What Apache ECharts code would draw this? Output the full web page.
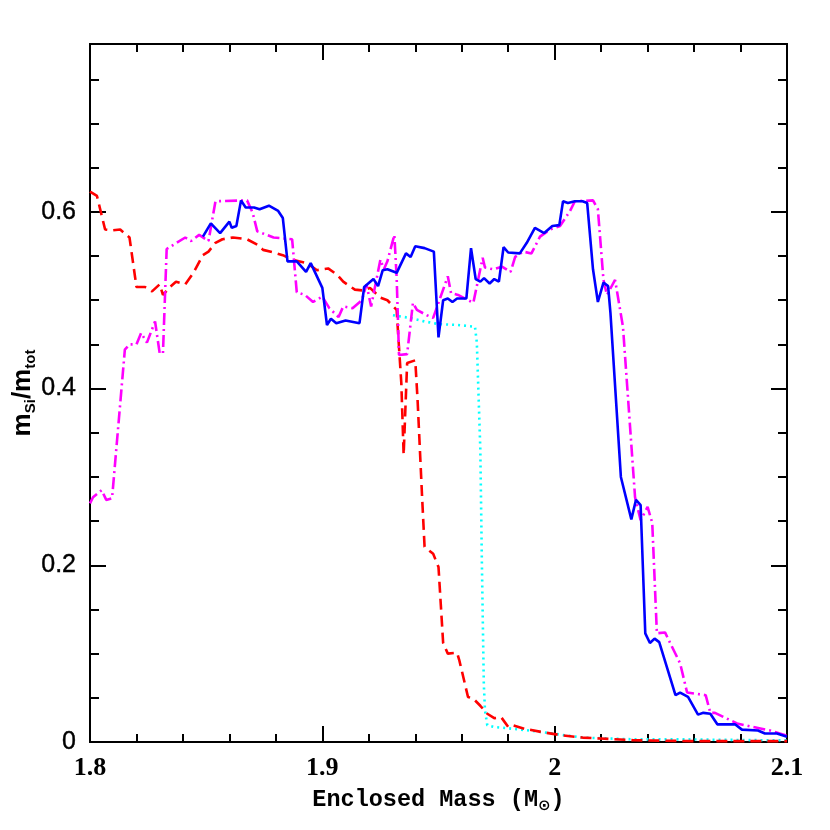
<!DOCTYPE html>
<html>
<head>
<meta charset="utf-8">
<script src="https://cdn.jsdelivr.net/npm/echarts@6/dist/echarts.min.js"></script>
<style>
  html, body { margin: 0; padding: 0; background: #fff; }
  #chart { width: 830px; height: 830px; }
</style>
</head>
<body>
<div id="chart"></div>
<script>
// enclosed mass (x) and Si mass fraction (y) for each model
var blueX = [1.8486, 1.852, 1.856, 1.860, 1.861, 1.863, 1.865, 1.867, 1.8706, 1.873, 1.877, 1.881, 1.883, 1.885, 1.889, 1.893, 1.895, 1.900, 1.902, 1.9037, 1.906, 1.910, 1.916, 1.918, 1.922, 1.924, 1.926, 1.928, 1.932, 1.936, 1.938, 1.940, 1.944, 1.948, 1.950, 1.952, 1.954, 1.956, 1.958, 1.962, 1.964, 1.966, 1.968, 1.9696, 1.972, 1.974, 1.976, 1.978, 1.980, 1.985, 1.988, 1.9915, 1.9955, 1.999, 2.002, 2.0036, 2.0057, 2.0087, 2.012, 2.014, 2.0165, 2.0186, 2.021, 2.023, 2.024, 2.0285, 2.033, 2.035, 2.037, 2.039, 2.041, 2.043, 2.045, 2.052, 2.054, 2.0574, 2.0617, 2.064, 2.067, 2.070, 2.0776, 2.0806, 2.0875, 2.0905, 2.0957, 2.1]
var blueY = [0.572, 0.587, 0.576, 0.589, 0.582, 0.584, 0.613, 0.605, 0.605, 0.603, 0.607, 0.601, 0.593, 0.544, 0.544, 0.532, 0.542, 0.514, 0.472, 0.479, 0.474, 0.477, 0.474, 0.515, 0.524, 0.516, 0.534, 0.535, 0.531, 0.553, 0.549, 0.561, 0.559, 0.555, 0.458, 0.500, 0.502, 0.498, 0.502, 0.502, 0.559, 0.524, 0.521, 0.525, 0.519, 0.524, 0.521, 0.560, 0.554, 0.553, 0.565, 0.582, 0.576, 0.584, 0.585, 0.612, 0.610, 0.612, 0.612, 0.610, 0.535, 0.498, 0.520, 0.516, 0.486, 0.300, 0.252, 0.274, 0.268, 0.123, 0.112, 0.117, 0.113, 0.053, 0.056, 0.051, 0.031, 0.033, 0.032, 0.020, 0.020, 0.014, 0.013, 0.0096, 0.0096, 0.006]

var magentaX = [1.8, 1.8013, 1.805, 1.807, 1.8095, 1.815, 1.817, 1.820, 1.822, 1.8245, 1.828, 1.830, 1.8314, 1.833, 1.841, 1.8435, 1.847, 1.851, 1.854, 1.8676, 1.870, 1.872, 1.876, 1.879, 1.887, 1.889, 1.8925, 1.896, 1.900, 1.903, 1.907, 1.909, 1.913, 1.917, 1.919, 1.921, 1.925, 1.9265, 1.928, 1.931, 1.932, 1.933, 1.9365, 1.939, 1.9407, 1.945, 1.9477, 1.954, 1.9554, 1.9584, 1.965, 1.969, 1.970, 1.9735, 1.9773, 1.981, 1.983, 1.9864, 1.990, 1.9937, 1.998, 2.0023, 2.0066, 2.0087, 2.0165, 2.0186, 2.021, 2.0225, 2.026, 2.0294, 2.0346, 2.037, 2.040, 2.042, 2.044, 2.0475, 2.054, 2.057, 2.065, 2.067, 2.069, 2.0785, 2.0854, 2.0927, 2.1]
var magentaY = [0.270, 0.277, 0.285, 0.274, 0.276, 0.444, 0.450, 0.450, 0.463, 0.452, 0.476, 0.440, 0.440, 0.558, 0.571, 0.567, 0.574, 0.567, 0.612, 0.613, 0.599, 0.578, 0.574, 0.571, 0.569, 0.509, 0.506, 0.498, 0.504, 0.491, 0.481, 0.493, 0.491, 0.500, 0.518, 0.493, 0.546, 0.535, 0.544, 0.574, 0.525, 0.438, 0.439, 0.497, 0.489, 0.483, 0.480, 0.527, 0.508, 0.506, 0.497, 0.548, 0.537, 0.535, 0.538, 0.532, 0.549, 0.555, 0.553, 0.572, 0.580, 0.584, 0.601, 0.612, 0.613, 0.603, 0.523, 0.506, 0.523, 0.470, 0.277, 0.251, 0.266, 0.248, 0.123, 0.124, 0.089, 0.056, 0.053, 0.033, 0.033, 0.021, 0.017, 0.013, 0.007]

var redX = [1.8, 1.803, 1.8065, 1.8095, 1.813, 1.817, 1.820, 1.8237, 1.8267, 1.830, 1.8314, 1.8344, 1.837, 1.841, 1.8445, 1.8486, 1.851, 1.854, 1.857, 1.8615, 1.8676, 1.872, 1.8745, 1.879, 1.883, 1.887, 1.8934, 1.8977, 1.9025, 1.9063, 1.909, 1.914, 1.9175, 1.9205, 1.925, 1.928, 1.932, 1.9326, 1.934, 1.935, 1.9365, 1.940, 1.941, 1.943, 1.944, 1.9477, 1.950, 1.952, 1.954, 1.958, 1.959, 1.9627, 1.965, 1.968, 1.971, 1.974, 1.977, 1.980, 1.982, 1.987, 1.995, 2.0036, 2.012, 2.0195, 2.034, 2.06, 2.1]
var redY = [0.623, 0.618, 0.580, 0.579, 0.580, 0.571, 0.515, 0.515, 0.510, 0.518, 0.506, 0.515, 0.521, 0.518, 0.531, 0.551, 0.555, 0.565, 0.569, 0.571, 0.569, 0.563, 0.557, 0.554, 0.551, 0.546, 0.542, 0.534, 0.536, 0.529, 0.521, 0.512, 0.511, 0.514, 0.503, 0.500, 0.489, 0.463, 0.406, 0.325, 0.429, 0.432, 0.387, 0.274, 0.221, 0.213, 0.198, 0.112, 0.100, 0.101, 0.092, 0.051, 0.049, 0.041, 0.032, 0.027, 0.028, 0.017, 0.019, 0.015, 0.011, 0.0074, 0.005, 0.004, 0.002, 0.001, 0.001]

var cyanX = [1.9304, 1.9377, 1.944, 1.950, 1.958, 1.962, 1.9657, 1.9665, 1.968, 1.9687, 1.9695, 1.970, 1.971, 1.974, 1.982, 1.989, 1.999, 2.012, 2.034, 2.055, 2.09, 2.1]
var cyanY = [0.483, 0.480, 0.476, 0.473, 0.472, 0.471, 0.470, 0.452, 0.331, 0.198, 0.066, 0.036, 0.019, 0.017, 0.015, 0.013, 0.0096, 0.005, 0.003, 0.003, 0.002, 0.002]

var xTicks = [1.8, 1.9, 2, 2.1]
var yMax = 0.79

function zip(xs, ys) {
  return xs.map(function (x, i) { return [x, ys[i]] })
}

var black = '#000'

function xAxisOf(pos, labels) {
  return {
    type: 'value',
    position: pos,
    min: xTicks[0],
    max: xTicks[xTicks.length - 1],
    interval: 0.1,
    axisLine: { show: true, onZero: false, lineStyle: { color: black, width: 2 } },
    axisTick: { show: true, inside: true, length: 16, lineStyle: { color: black, width: 2 } },
    minorTick: { show: true, splitNumber: 5, length: 8, lineStyle: { color: black, width: 2 } },
    splitLine: { show: false },
    axisLabel: {
      show: labels,
      margin: 13,
      color: black,
      fontFamily: 'Liberation Serif',
      fontWeight: 'bold',
      fontSize: 26
    }
  }
}

function yAxisOf(pos, interval, len, labels) {
  return {
    type: 'value',
    position: pos,
    min: 0,
    max: yMax,
    interval: interval,
    axisLine: { show: true, onZero: false, lineStyle: { color: black, width: 2 } },
    axisTick: { show: true, inside: true, length: len, lineStyle: { color: black, width: 2 } },
    splitLine: { show: false },
    axisLabel: {
      show: labels,
      showMaxLabel: false,
      margin: 14,
      color: black,
      fontFamily: 'Liberation Sans',
      fontWeight: 500,
      fontSize: 25,
      textBorderColor: black,
      textBorderWidth: 0.4
    }
  }
}

var chart = echarts.init(document.getElementById('chart'), null, { renderer: 'canvas' })

var xBottom = xAxisOf('bottom', true)
xBottom.name = '{a|Enclosed Mass (M}{s|⊙}{a|)}'
xBottom.nameLocation = 'middle'
xBottom.nameGap = 45
xBottom.nameMoveOverlap = false
xBottom.nameTextStyle = {
  rich: {
    a: { fontFamily: 'Liberation Mono', fontWeight: 'bold', fontSize: 23.5, color: black, lineHeight: 27 },
    s: { fontFamily: 'DejaVu Sans', fontWeight: 'bold', fontSize: 15, color: black, verticalAlign: 'bottom', lineHeight: 12 }
  }
}

var yLeftMajor = yAxisOf('left', 0.2, 16, true)
yLeftMajor.name = '{m|m}{s|Si}{m|/m}{s|tot}'
yLeftMajor.nameLocation = 'middle'
yLeftMajor.nameGap = 52
yLeftMajor.nameMoveOverlap = false
yLeftMajor.nameTextStyle = {
  rich: {
    m: { fontFamily: 'Liberation Sans', fontWeight: 'bold', fontSize: 26, color: black, lineHeight: 30 },
    s: { fontFamily: 'Liberation Sans', fontWeight: 'bold', fontSize: 15, color: black, verticalAlign: 'bottom', lineHeight: 13 }
  }
}

function lineSeries(xs, ys, color, type) {
  return {
    type: 'line',
    xAxisIndex: 0,
    yAxisIndex: 1,
    data: zip(xs, ys),
    showSymbol: false,
    symbol: 'none',
    clip: true,
    lineStyle: { color: color, width: 2.6, type: type },
    z: 2
  }
}

chart.setOption({
  backgroundColor: '#fff',
  animation: false,
  grid: { left: 90, right: 43, top: 44, bottom: 88, containLabel: false, outerBoundsMode: 'none' },
  xAxis: [xBottom, xAxisOf('top', false)],
  yAxis: [
    yAxisOf('left', 0.05, 9, false),
    yLeftMajor,
    yAxisOf('right', 0.05, 9, false),
    yAxisOf('right', 0.2, 16, false)
  ],
  series: [
    lineSeries(cyanX, cyanY, '#00ffff', [2, 4]),
    lineSeries(redX, redY, '#ff0000', [11, 6]),
    lineSeries(magentaX, magentaY, '#ff00ff', [12, 4, 2, 4]),
    lineSeries(blueX, blueY, '#0000ff', 'solid')
  ]
})
</script>
</body>
</html>
